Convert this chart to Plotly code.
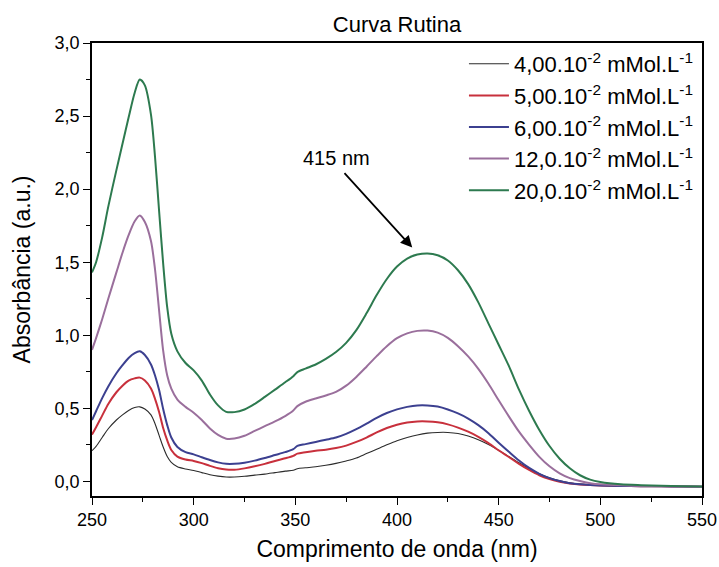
import plotly.graph_objects as go

wavelength = [250, 252, 255, 258, 262, 265, 268, 271, 273.5, 276, 279, 281, 283, 285, 287, 289, 292, 296,
              300, 304, 308, 312, 316, 320, 325, 330, 335, 340, 345, 349, 351, 355, 360, 365, 370,
              375, 380, 385, 390, 395, 400, 405, 410, 415, 420, 425, 430, 435, 440, 445, 450, 455,
              460, 465, 470, 475, 480, 485, 490, 495, 500, 510, 520, 530, 540, 550]

abs_4 = [0.21, 0.24, 0.30, 0.36, 0.42, 0.455, 0.485, 0.505, 0.51, 0.495, 0.455, 0.395, 0.315, 0.235, 0.17, 0.13,
         0.10, 0.085, 0.075, 0.06, 0.046, 0.036, 0.03, 0.03, 0.035, 0.043, 0.05, 0.06, 0.07, 0.076,
         0.087, 0.093, 0.10, 0.11, 0.123, 0.14, 0.16, 0.19, 0.22, 0.25, 0.278, 0.30, 0.318, 0.33,
         0.335, 0.335, 0.328, 0.31, 0.285, 0.252, 0.212, 0.17, 0.127, 0.087, 0.052, 0.024, 0.004, -0.01,
         -0.019, -0.024, -0.028, -0.031, -0.033, -0.034, -0.035, -0.036]

abs_5 = [0.32, 0.37, 0.45, 0.53, 0.61, 0.655, 0.69, 0.705, 0.71, 0.69, 0.635, 0.565, 0.475, 0.365, 0.28, 0.215,
         0.17, 0.15, 0.14, 0.125, 0.106, 0.09, 0.081, 0.08, 0.089, 0.103, 0.12, 0.14, 0.158, 0.175,
         0.19, 0.20, 0.21, 0.217, 0.228, 0.245, 0.27, 0.30, 0.335, 0.365, 0.388, 0.403, 0.41, 0.41,
         0.404, 0.39, 0.368, 0.34, 0.305, 0.262, 0.213, 0.167, 0.12, 0.078, 0.042, 0.016, -0.003, -0.014,
         -0.021, -0.025, -0.028, -0.031, -0.033, -0.034, -0.035, -0.036]

abs_6 = [0.42, 0.48, 0.57, 0.65, 0.74, 0.795, 0.845, 0.878, 0.89, 0.865, 0.80, 0.725, 0.625, 0.495, 0.385, 0.30,
         0.235, 0.20, 0.185, 0.165, 0.146, 0.13, 0.12, 0.12, 0.128, 0.142, 0.16, 0.18, 0.20, 0.22,
         0.243, 0.255, 0.27, 0.285, 0.30, 0.325, 0.357, 0.395, 0.435, 0.468, 0.493, 0.51, 0.52, 0.52,
         0.512, 0.492, 0.465, 0.43, 0.385, 0.33, 0.265, 0.203, 0.143, 0.092, 0.052, 0.022, 0.002, -0.012,
         -0.02, -0.025, -0.028, -0.031, -0.033, -0.034, -0.035, -0.036]

abs_12 = [0.90, 0.98, 1.11, 1.25, 1.43, 1.565, 1.685, 1.78, 1.82, 1.775, 1.645, 1.45, 1.17, 0.895, 0.725, 0.635,
          0.56, 0.51, 0.47, 0.42, 0.362, 0.318, 0.292, 0.293, 0.312, 0.345, 0.378, 0.41, 0.447, 0.485,
          0.515, 0.545, 0.567, 0.588, 0.612, 0.655, 0.715, 0.785, 0.857, 0.925, 0.98, 1.013, 1.03, 1.032,
          1.018, 0.982, 0.925, 0.855, 0.77, 0.668, 0.555, 0.445, 0.34, 0.25, 0.168, 0.103, 0.055, 0.022,
          0.002, -0.012, -0.02, -0.027, -0.031, -0.033, -0.035, -0.036]

abs_20 = [1.43, 1.50, 1.67, 1.88, 2.13, 2.31, 2.49, 2.66, 2.75, 2.71, 2.51, 2.22, 1.85, 1.49, 1.19, 1.01,
          0.89, 0.81, 0.76, 0.69, 0.595, 0.52, 0.476, 0.474, 0.492, 0.53, 0.578, 0.628, 0.678, 0.72,
          0.748, 0.772, 0.80, 0.838, 0.885, 0.948, 1.035, 1.15, 1.275, 1.385, 1.47, 1.525, 1.552, 1.56,
          1.548, 1.512, 1.445, 1.35, 1.225, 1.08, 0.935, 0.79, 0.628, 0.482, 0.352, 0.242, 0.155, 0.09,
          0.042, 0.012, -0.004, -0.02, -0.026, -0.03, -0.033, -0.035]

series_names = ["4,00.10<sup>-2</sup> mMol.L<sup>-1</sup>",
                "5,00.10<sup>-2</sup> mMol.L<sup>-1</sup>",
                "6,00.10<sup>-2</sup> mMol.L<sup>-1</sup>",
                "12,0.10<sup>-2</sup> mMol.L<sup>-1</sup>",
                "20,0.10<sup>-2</sup> mMol.L<sup>-1</sup>"]
series_values = [abs_4, abs_5, abs_6, abs_12, abs_20]
series_colors = ["#2b2b2b", "#c8303c", "#3c4090", "#9a6f9c", "#2d7a4f"]
series_widths = [1.1, 2, 2, 2, 2]

x_ticks = [250, 300, 350, 400, 450, 500, 550]
y_tickvals = [0.0, 0.5, 1.0, 1.5, 2.0, 2.5, 3.0]
y_ticktext = ["0,0", "0,5", "1,0", "1,5", "2,0", "2,5", "3,0"]

fig = go.Figure()
for name, vals, col, w in zip(series_names, series_values, series_colors, series_widths):
    fig.add_trace(go.Scatter(x=wavelength, y=vals, mode="lines", name=name,
                             line=dict(color=col, width=w, shape="spline", smoothing=0.8)))

font_family = "Liberation Sans, Arial, sans-serif"
fig.update_layout(
    width=719, height=567,
    margin=dict(l=92, r=17, t=43, b=71),
    paper_bgcolor="white", plot_bgcolor="white",
    font=dict(family=font_family, color="black", size=18),
    title=dict(text="Curva Rutina", x=0.5, xref="paper", xanchor="center",
               y=1 - 24 / 567, yref="container", yanchor="middle",
               font=dict(size=22, family=font_family)),
    showlegend=True,
    legend=dict(x=0.995, y=1.0, xanchor="right", yanchor="top",
                bgcolor="rgba(0,0,0,0)", font=dict(size=22, family=font_family),
                itemwidth=40),
)
fig.update_xaxes(range=[250, 550], tickvals=x_ticks, ticks="outside", ticklen=7, tickwidth=1.2,
                 tickcolor="black", showline=True, linecolor="black", linewidth=1.5, mirror=True,
                 showgrid=False, zeroline=False, automargin=False,
                 minor=dict(ticks="outside", dtick=25, tick0=250, ticklen=4, tickcolor="black"),
                 title=dict(text="Comprimento de onda (nm)", font=dict(size=23), standoff=12),
                 tickfont=dict(size=18))
fig.update_yaxes(range=[-0.1, 3.0], tickvals=y_tickvals, ticktext=y_ticktext, ticks="outside",
                 ticklen=7, tickwidth=1.2, tickcolor="black", showline=True, linecolor="black",
                 linewidth=1.5, mirror=True, showgrid=False, zeroline=False, automargin=False,
                 minor=dict(ticks="outside", dtick=0.25, tick0=0, ticklen=4, tickcolor="black"),
                 title=dict(text="Absorbância (a.u.)", font=dict(size=23), standoff=18),
                 tickfont=dict(size=18))

fig.add_annotation(x=407.5, y=1.60, ax=373.5, ay=2.12, xref="x", yref="y", axref="x", ayref="y",
                   text="", showarrow=True, arrowhead=2, arrowsize=1.3, arrowwidth=1.8,
                   arrowcolor="black")
fig.add_annotation(x=370, y=2.21, xref="x", yref="y", text="415 nm", showarrow=False,
                   font=dict(size=20, family=font_family))

fig.write_html("out.html")
